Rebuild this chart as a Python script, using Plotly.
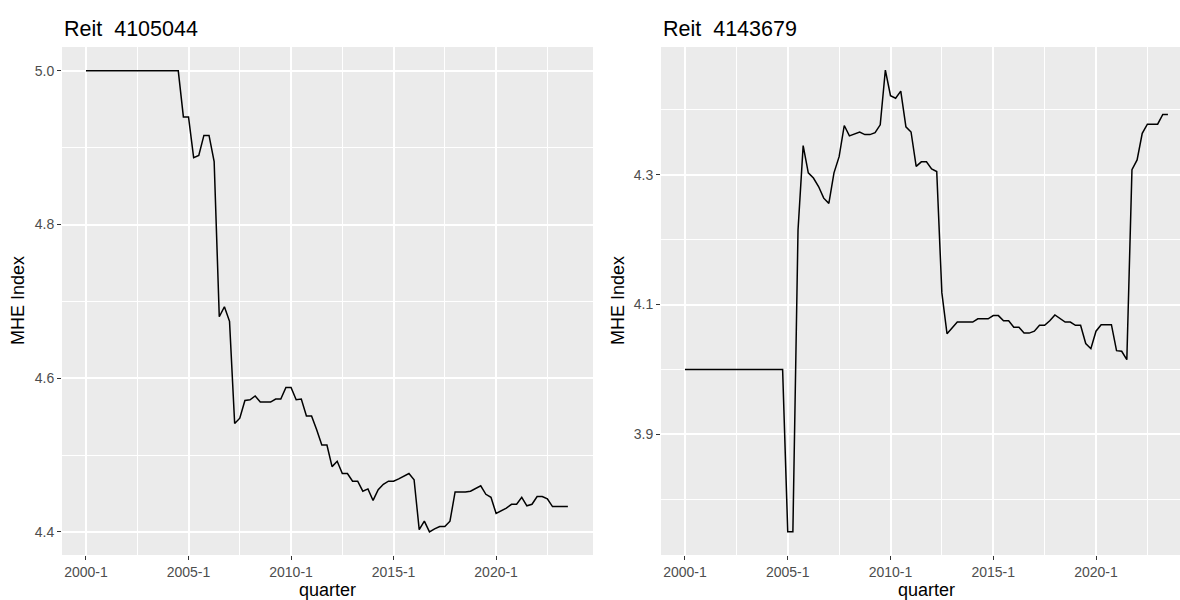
import plotly.graph_objects as go

# Quarter labels, 2000-1 .. 2023-3
years = list(range(2000, 2024))
quarters = [f"{y}-{q}" for y in years for q in (1, 2, 3, 4)][:95]

# MHE index per quarter, property 4105044
reit_4105044 = [
    5.0, 5.0, 5.0, 5.0, 5.0, 5.0, 5.0, 5.0, 5.0, 5.0,
    5.0, 5.0, 5.0, 5.0, 5.0, 5.0, 5.0, 5.0, 5.0, 4.94,
    4.94, 4.887, 4.89, 4.916, 4.916, 4.882, 4.680, 4.693, 4.674, 4.541,
    4.548, 4.571, 4.572, 4.577, 4.569, 4.569, 4.569, 4.573, 4.573, 4.588,
    4.588, 4.572, 4.573, 4.551, 4.551, 4.533, 4.513, 4.513, 4.485, 4.492,
    4.476, 4.476, 4.466, 4.466, 4.453, 4.456, 4.441, 4.455, 4.462, 4.466,
    4.466, 4.469, 4.472, 4.476, 4.468, 4.403, 4.414, 4.400, 4.404, 4.407,
    4.407, 4.414, 4.452, 4.452, 4.452, 4.453, 4.456, 4.460, 4.449, 4.445,
    4.424, 4.427, 4.431, 4.436, 4.436, 4.445, 4.434, 4.436, 4.446, 4.446,
    4.443, 4.433, 4.433, 4.433, 4.433,
]

# MHE index per quarter, property 4143679
reit_4143679 = [
    4.0, 4.0, 4.0, 4.0, 4.0, 4.0, 4.0, 4.0, 4.0, 4.0,
    4.0, 4.0, 4.0, 4.0, 4.0, 4.0, 4.0, 4.0, 4.0, 4.0,
    3.75, 3.75, 4.215, 4.345, 4.303, 4.295, 4.282, 4.264, 4.256, 4.303,
    4.328, 4.376, 4.360, 4.363, 4.366, 4.362, 4.362, 4.365, 4.377, 4.4615,
    4.422, 4.418, 4.429, 4.374, 4.366, 4.313, 4.320, 4.320, 4.309, 4.305,
    4.118, 4.055, 4.064, 4.073, 4.073, 4.073, 4.073, 4.078, 4.078, 4.078,
    4.083, 4.083, 4.075, 4.075, 4.065, 4.065, 4.056, 4.056, 4.059, 4.068,
    4.068, 4.075, 4.084, 4.078, 4.073, 4.073, 4.068, 4.068, 4.040, 4.032,
    4.059, 4.069, 4.069, 4.069, 4.029, 4.028, 4.015, 4.308, 4.323, 4.364,
    4.378, 4.378, 4.378, 4.393, 4.393,
]

x_breaks = [0, 20, 40, 60, 80]
x_minor = [10, 30, 50, 70, 90]
x_labels = [quarters[i] for i in x_breaks]

left_y_major = [4.4, 4.6, 4.8, 5.0]
left_y_labels = ["4.4", "4.6", "4.8", "5.0"]
left_y_minor = [4.5, 4.7, 4.9]
right_y_major = [3.9, 4.1, 4.3]
right_y_labels = ["3.9", "4.1", "4.3"]
right_y_minor = [3.8, 4.0, 4.2, 4.4]

FONT = "Liberation Sans, Arial, sans-serif"
W, H = 1180, 600
idx = list(range(len(quarters)))

fig = go.Figure()
fig.add_trace(go.Scatter(x=idx, y=reit_4105044, mode="lines",
                         line=dict(color="black", width=1.5),
                         xaxis="x", yaxis="y", showlegend=False,
                         customdata=quarters, hovertemplate="%{customdata}: %{y}<extra></extra>"))
fig.add_trace(go.Scatter(x=idx, y=reit_4143679, mode="lines",
                         line=dict(color="black", width=1.5),
                         xaxis="x2", yaxis="y2", showlegend=False,
                         customdata=quarters, hovertemplate="%{customdata}: %{y}<extra></extra>"))

y_dom = [1 - 555 / H, 1 - 47 / H]
common_axis = dict(
    showline=False, zeroline=False,
    showgrid=True, gridcolor="white", gridwidth=1.6,
    ticks="outside", ticklen=4, tickwidth=1, tickcolor="#333333",
    tickfont=dict(family=FONT, size=14, color="#4D4D4D"),
    tickmode="array",
)

def minor(vals):
    return dict(tickmode="array", tickvals=vals, showgrid=True,
                gridcolor="white", gridwidth=0.8, ticks="")

fig.update_layout(
    width=W, height=H,
    margin=dict(l=0, r=0, t=0, b=0),
    paper_bgcolor="white", plot_bgcolor="#EBEBEB",
    xaxis=dict(common_axis, domain=[62 / W, 593 / W], range=[-4.68, 98.9],
               tickvals=x_breaks, ticktext=x_labels, minor=minor(x_minor), anchor="y"),
    yaxis=dict(common_axis, domain=y_dom, range=[4.370, 5.031],
               tickvals=left_y_major, ticktext=left_y_labels, minor=minor(left_y_minor), anchor="x"),
    xaxis2=dict(common_axis, domain=[661 / W, 1.0], range=[-4.67, 96.35],
                tickvals=x_breaks, ticktext=x_labels, minor=minor(x_minor), anchor="y2"),
    yaxis2=dict(common_axis, domain=y_dom, range=[3.714, 4.497],
                tickvals=right_y_major, ticktext=right_y_labels, minor=minor(right_y_minor), anchor="x2"),
)

titles = [("Reit\u00a0 4105044", 62), ("Reit\u00a0 4143679", 661)]
for text, px in titles:
    fig.add_annotation(text=text, x=px / W, y=1 - 29 / H, xref="paper", yref="paper",
                       xanchor="left", yanchor="middle", showarrow=False,
                       font=dict(family=FONT, size=21.5, color="black"))

for px in (327.5, 926):
    fig.add_annotation(text="quarter", x=px / W, y=1 - 590 / H, xref="paper", yref="paper",
                       xanchor="center", yanchor="middle", showarrow=False,
                       font=dict(family=FONT, size=18, color="black"))

for px in (18, 618):
    fig.add_annotation(text="MHE Index", x=px / W, y=1 - 301 / H, xref="paper", yref="paper",
                       xanchor="center", yanchor="middle", showarrow=False, textangle=-90,
                       font=dict(family=FONT, size=18, color="black"))

fig.write_html("out.html")
